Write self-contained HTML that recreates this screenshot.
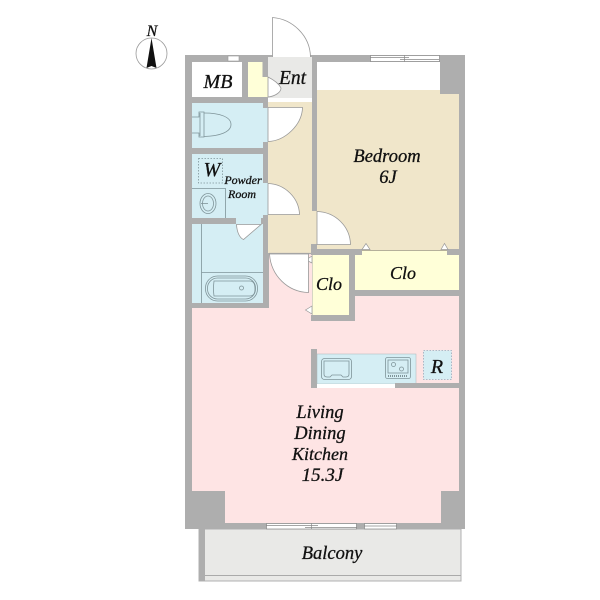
<!DOCTYPE html>
<html><head><meta charset="utf-8"><style>
html,body{margin:0;padding:0;background:#fff}
svg{display:block}
text{font-family:"Liberation Serif",serif;font-style:italic;fill:#111;stroke:#111;stroke-width:.3;text-anchor:middle}
</style></head><body>
<svg width="600" height="600" viewBox="0 0 600 600" xmlns="http://www.w3.org/2000/svg">
<!-- balcony -->
<rect x="199" y="529" width="262" height="52" fill="#e9e9e7" stroke="#b0b0b0" stroke-width="1"/>
<rect x="199" y="529" width="6" height="52" fill="#aeaeae"/>
<line x1="205" y1="575.5" x2="461" y2="575.5" stroke="#aaa"/>
<!-- walls -->
<rect x="185" y="55" width="280" height="474" fill="#aeaeae"/>
<!-- rooms -->
<rect x="192" y="62" width="50" height="35" fill="#fff"/>
<path d="M248 62H263V77H268V97H248Z" fill="#ffffd8"/>
<rect x="268" y="57" width="44" height="41" fill="#e9e9e7"/>
<rect x="268" y="98" width="44" height="4" fill="#fff"/>
<rect x="268" y="102" width="44" height="151" fill="#f0e6ca"/>
<rect x="317" y="62" width="123" height="28.5" fill="#fff"/>
<rect x="317" y="90" width="123" height="160" fill="#f0e6ca"/>
<rect x="440" y="94" width="19" height="156" fill="#f0e6ca"/>
<rect x="311" y="211" width="6" height="33" fill="#f0e6ca"/>
<!-- toilet -->
<path d="M192 103H263V108H268V142H263V148H192Z" fill="#d5eef4"/>
<!-- powder + bath -->
<path d="M192 154H263V183H268V215H263V218H261V224H263V303H192V224H236V218H192Z" fill="#d5eef4"/>
<rect x="192" y="218" width="44" height="6" fill="#aeaeae"/>
<!-- LDK -->
<path d="M192 308H269V254H312V315H311V321H355V296H459V491H441V523H225V491H192Z" fill="#fee4e4"/>
<rect x="263" y="303" width="6" height="5" fill="#aeaeae"/>
<line x1="269" y1="253.500" x2="311" y2="253.500" stroke="#aaa" stroke-width="1.200"/>
<!-- closets -->
<rect x="311" y="244" width="6" height="11" fill="#aeaeae"/>
<rect x="311" y="249" width="51" height="6" fill="#aeaeae"/>
<rect x="447" y="249" width="12" height="6" fill="#aeaeae"/>
<rect x="362" y="250" width="85" height="5" fill="#ffffd8"/>
<line x1="362" y1="250.500" x2="447" y2="250.500" stroke="#b5b09a" stroke-width="1"/>
<rect x="355" y="255" width="104" height="35" fill="#ffffd8"/>
<rect x="312.500" y="255" width="36.500" height="60" fill="#ffffd8"/>
<rect x="349" y="255" width="6" height="66" fill="#aeaeae"/>
<rect x="311" y="315" width="44" height="6" fill="#aeaeae"/>
<rect x="355" y="290" width="104" height="6" fill="#aeaeae"/>
<!-- closet door ticks -->
<g fill="#fff" stroke="#999" stroke-width=".7">
<path d="M362 249.500L366 243.500L370 249.500Z"/><path d="M441 249.500L444.500 243.500L448 249.500Z"/>
<path d="M312 256L306 260L312 263Z"/><path d="M312 306L305.500 310L312 314Z"/>
</g>
<!-- kitchen -->
<rect x="311" y="349" width="6" height="39" fill="#aeaeae"/>
<rect x="317" y="354" width="99" height="30" fill="#d5eef4" stroke="#a8b4b8" stroke-width=".5"/>
<rect x="317" y="384" width="78" height="4" fill="#fff"/>
<rect x="395" y="383" width="64" height="5" fill="#aeaeae"/>
<rect x="423.500" y="350.500" width="28" height="29" fill="#d5eef4" stroke="#9ab" stroke-dasharray="1.500 1.500" stroke-width=".8"/>
<!-- sink -->
<g fill="none" stroke="#7f9499" stroke-width=".8">
<rect x="321.500" y="358.500" width="30" height="21" rx="3"/>
<path d="M324 361H349V374Q349 377 346 377H343L341 375H332L330 377H327Q324 377 324 374Z"/>
<rect x="385.500" y="357.500" width="25" height="21" rx="2"/>
<rect x="388" y="360" width="20" height="13"/>
<circle cx="393.500" cy="364.500" r="2"/><circle cx="401.500" cy="369" r="2"/>
<path d="M388 376H408" stroke-width="2" stroke-dasharray="1 1"/>
</g>
<!-- doors -->
<g fill="#fff" stroke="#999" stroke-width=".8">
<path d="M272.500 57V17.500C292 19 310 35 310.500 57"/>
<path d="M268 107.500H302.500C302 125 285 141 268 141.500Z"/>
<path d="M268 183.500C285 184 299 198 299.500 214.500H268Z"/>
<path d="M317 211.500C335 212 350 226 350.500 244.500H317Z"/>
<path d="M269.500 254H308.500V292.500C288 292 271 276 269.500 254Z"/>
<path d="M236.500 224.500H261L243.500 239.500C240 238 237 233 236.500 224.500Z"/>
<path d="M268 77C274 80 279 84 281 88C281 92 276 96 268 97Z"/>
</g>
<rect x="262.500" y="62" width="5.500" height="15" fill="#aeaeae"/>
<rect x="263" y="97" width="5" height="11" fill="#aeaeae"/>
<!-- windows -->
<rect x="228" y="56" width="11" height="5" fill="#fff" stroke="#999" stroke-width=".6"/>
<g fill="#fff" stroke="#888" stroke-width=".7">
<rect x="370.500" y="55.500" width="69" height="6"/>
<path d="M370 57.500H409M400 59.500H439M404.500 55.500V61.500" fill="none"/>
<rect x="266.500" y="523.500" width="90" height="5.500"/>
<path d="M266 525.500H318M305 527.500H357M311.500 523.500V529" fill="none"/>
<rect x="364.500" y="523.500" width="32" height="5.500"/>
<path d="M364 526H397" fill="none"/>
</g>
<!-- fixtures -->
<g fill="none" stroke="#7f9499" stroke-width=".8">
<path d="M192 117H199V112H204V137H199V133H192"/>
<path d="M200 113V136"/>
<path d="M204 113C220 113 231 117 231 124.500C231 132 220 136 204 136.500"/>
<rect x="198.500" y="158.500" width="24" height="24.500" stroke-dasharray="1.500 1.500"/>
<path d="M192 188.500H225.500V218"/>
<ellipse cx="208" cy="203.500" rx="8" ry="10"/>
<ellipse cx="208" cy="203.500" rx="5.500" ry="7.500"/>
<path d="M201 203.500H208"/>
<path d="M201.500 224V303M201.500 272.500H263"/>
<rect x="205.500" y="276" width="52" height="25" rx="12"/>
<rect x="207.500" y="278" width="48" height="21" rx="10"/>
<path d="M214 281H250Q255 281 255 289Q255 296 250 296H214Q213 289 214 281Z"/>
<circle cx="241.500" cy="288" r="2"/>
</g>
<!-- north -->
<circle cx="151.500" cy="53.500" r="15.500" fill="#fff" stroke="#999" stroke-width=".8"/>
<path d="M151.500 38L146.500 68L151.500 66L156.500 68Z" fill="#111"/>
<text x="152" y="36" font-size="16">N</text>
<!-- labels -->
<text x="218" y="88" font-size="20">MB</text>
<text x="292.500" y="84" font-size="19.500">Ent</text>
<text x="387" y="162" font-size="18.500">Bedroom</text>
<text x="388" y="183" font-size="18.500">6J</text>
<text x="212" y="176" font-size="20">W</text>
<text x="243" y="184" font-size="12">Powder</text>
<text x="242" y="198" font-size="12">Room</text>
<text x="329" y="290" font-size="18">Clo</text>
<text x="403" y="279" font-size="18">Clo</text>
<text x="437" y="373" font-size="20">R</text>
<text x="320" y="418" font-size="18.500">Living</text>
<text x="320" y="439" font-size="18.500">Dining</text>
<text x="320" y="460" font-size="18">Kitchen</text>
<text x="322.500" y="481" font-size="19">15.3J</text>
<text x="332" y="559" font-size="18.500">Balcony</text>
</svg>
</body></html>
